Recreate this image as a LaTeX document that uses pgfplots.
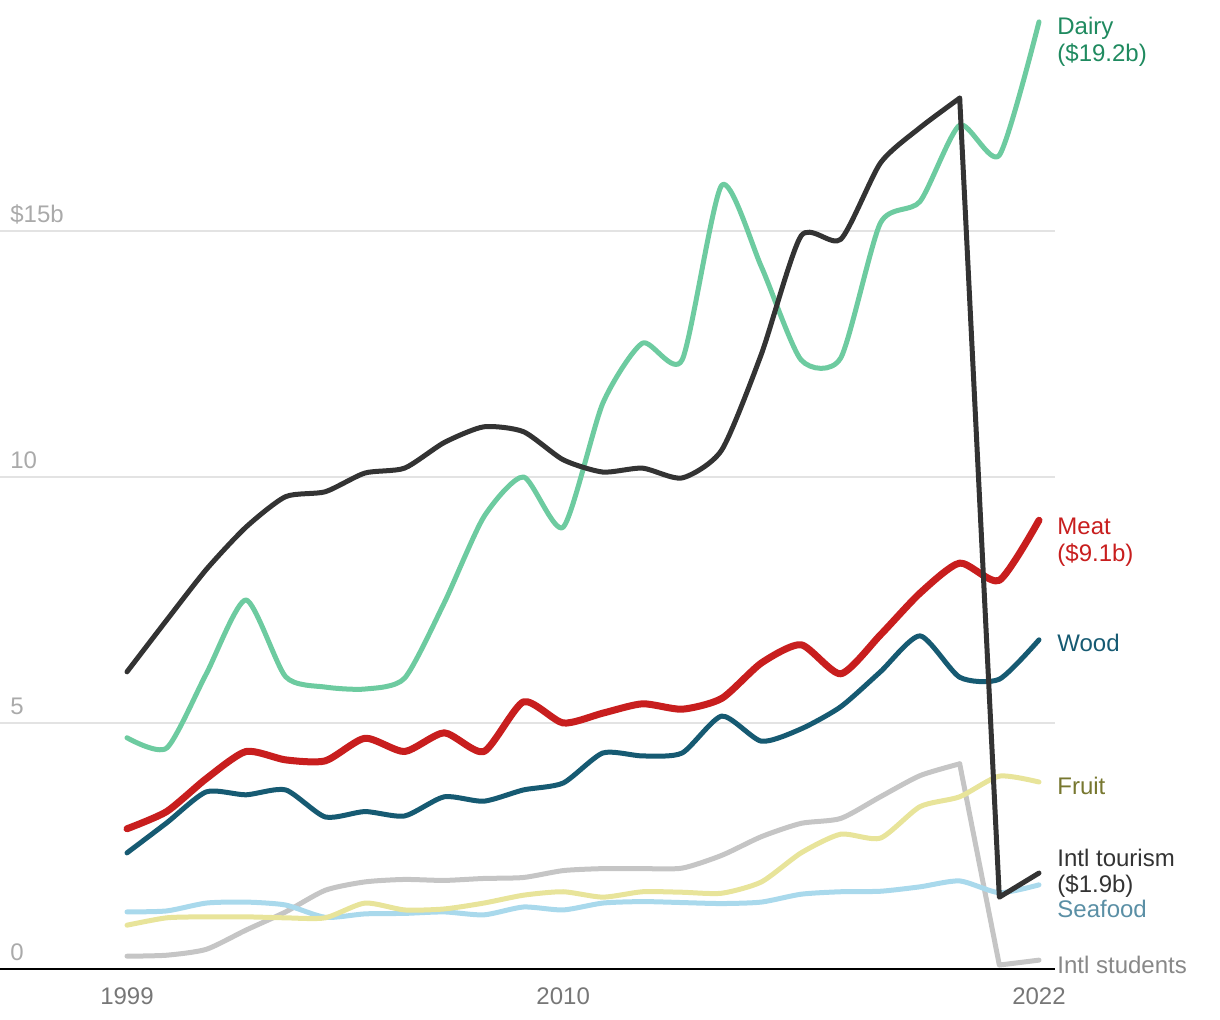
\documentclass[border=0pt]{standalone}
\usepackage{pgfplots}
\pgfplotsset{compat=1.18}
\usepackage{fontspec}
\setmainfont{Liberation Sans}
\definecolor{dairy}{HTML}{6DCBA0}
\definecolor{dairyt}{HTML}{1F8A5F}
\definecolor{tour}{HTML}{333333}
\definecolor{meat}{HTML}{C81E1E}
\definecolor{wood}{HTML}{165A72}
\definecolor{fruit}{HTML}{E8E49A}
\definecolor{fruitt}{HTML}{77772F}
\definecolor{seaf}{HTML}{A9D9EC}
\definecolor{seaft}{HTML}{5A8FA5}
\definecolor{stud}{HTML}{C5C5C5}
\definecolor{studt}{HTML}{888888}
\definecolor{gridc}{HTML}{E3E3E3}
\definecolor{ylab}{HTML}{AAAAAA}
\definecolor{xlab}{HTML}{777777}

\pgfplotstableread{
year dairy tour meat wood fruit seaf stud
1999 4.70 6.04 2.85 2.36 0.89 1.16 0.26
2000 4.49 7.09 3.20 2.97 1.04 1.18 0.28
2001 6.00 8.12 3.87 3.60 1.06 1.34 0.40
2002 7.50 8.98 4.42 3.54 1.06 1.36 0.79
2003 5.94 9.60 4.25 3.64 1.04 1.30 1.16
2004 5.73 9.70 4.23 3.09 1.04 1.05 1.60
2005 5.69 10.08 4.69 3.20 1.34 1.12 1.77
2006 5.91 10.18 4.42 3.11 1.20 1.13 1.82
2007 7.44 10.70 4.80 3.50 1.22 1.16 1.80
2008 9.19 11.02 4.42 3.41 1.34 1.10 1.84
2009 10.00 10.92 5.43 3.64 1.50 1.26 1.86
2010 8.98 10.35 5.00 3.78 1.57 1.20 2.00
2011 11.50 10.10 5.20 4.39 1.46 1.34 2.04
2012 12.72 10.18 5.39 4.33 1.57 1.37 2.04
2013 12.38 9.98 5.28 4.39 1.56 1.35 2.05
2014 15.93 10.55 5.50 5.14 1.54 1.33 2.31
2015 14.27 12.50 6.22 4.63 1.77 1.36 2.69
2016 12.38 14.90 6.59 4.88 2.36 1.52 2.96
2017 12.42 14.83 6.00 5.33 2.74 1.57 3.06
2018 15.16 16.38 6.79 6.04 2.66 1.58 3.50
2019 15.60 17.10 7.64 6.77 3.30 1.67 3.93
2020 17.15 17.70 8.25 5.93 3.50 1.79 4.17
2021 16.54 1.46 7.90 5.89 3.92 1.55 0.08
2022 19.25 1.95 9.12 6.69 3.80 1.71 0.18
}\data

\begin{document}
\begin{tikzpicture}[x=1pt,y=1pt]
\useasboundingbox (0,0) rectangle (610,510);
\begin{axis}[
  at={(0pt,25.5pt)}, anchor=south west,
  scale only axis, width=527.5pt, height=484.5pt,
  xmin=1995.797, xmax=2022.404, ymin=0, ymax=19.695,
  clip=false,
  axis line style={draw=none},
  major tick length=0pt,
  tick style={draw=none},
  font=\fontsize{12}{13.5}\selectfont,
  ytick={0,5,10,15},
  yticklabels={0,5,10,\$15b},
  yticklabel style={anchor=base west, inner sep=0pt, xshift=5pt, yshift=4pt, text=ylab},
  ymajorgrids,
  grid style={color=gridc, line width=1pt},
  xtick={1999,2010,2022},
  xticklabels={1999,2010,2022},
  xticklabel style={anchor=base, inner sep=0pt, yshift=-18pt, text=xlab},
  /pgf/number format/assume math mode=true,
  every axis plot/.append style={line join=round, line cap=round, smooth, tension=0.4},
]
% students
\addplot[stud, line width=2.5pt] table[x=year, y=stud, restrict x to domain=1999:2020] {\data};
\addplot[stud, line width=2.5pt, sharp plot] table[x=year, y=stud, restrict x to domain=2020:2022] {\data};
% seafood
\addplot[seaf, line width=2.5pt] table[x=year, y=seaf] {\data};
% fruit
\addplot[fruit, line width=2.5pt] table[x=year, y=fruit] {\data};
% wood
\addplot[wood, line width=2.5pt] table[x=year, y=wood] {\data};
% meat
\addplot[meat, line width=3.5pt] table[x=year, y=meat] {\data};
% dairy
\addplot[dairy, line width=2.5pt] table[x=year, y=dairy] {\data};
% tourism
\addplot[tour, line width=2.5pt] table[x=year, y=tour, restrict x to domain=1999:2020] {\data};
\addplot[tour, line width=2.5pt, sharp plot] table[x=year, y=tour, restrict x to domain=2020:2022] {\data};
\draw[black, line width=1pt] (axis cs:1995.797,0) -- (axis cs:2022.404,0);
\end{axis}
\begin{scope}[every node/.style={anchor=base west, inner sep=0pt, font=\fontsize{12}{13.5}\selectfont}]
\node[text=dairyt] at (528.5,492.5) {Dairy};
\node[text=dairyt] at (528.5,479) {(\$19.2b)};
\node[text=meat] at (528.5,242.5) {Meat};
\node[text=meat] at (528.5,229) {(\$9.1b)};
\node[text=wood] at (528.5,184) {Wood};
\node[text=fruitt] at (528.5,112.5) {Fruit};
\node[text=tour] at (528.5,76.5) {Intl tourism};
\node[text=tour] at (528.5,63.5) {(\$1.9b)};
\node[text=seaft] at (528.5,51) {Seafood};
\node[text=studt] at (528.5,23) {Intl students};
\end{scope}
\end{tikzpicture}
\end{document}
